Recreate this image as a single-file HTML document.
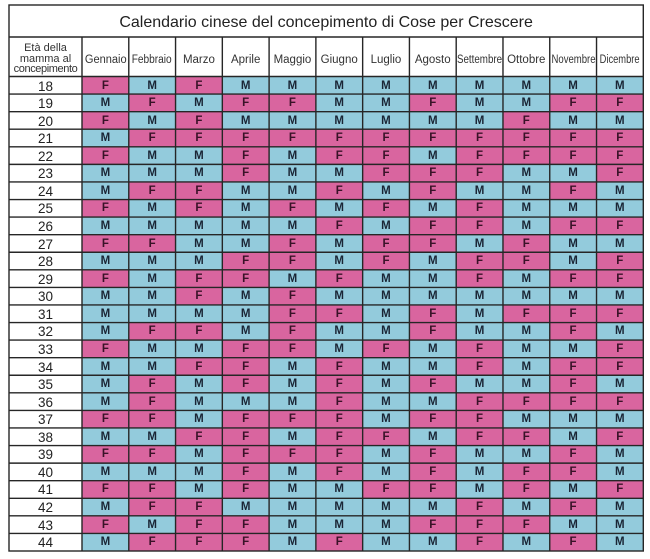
<!DOCTYPE html>
<html><head><meta charset="utf-8">
<style>
html,body{margin:0;padding:0;background:#fff;width:650px;height:559px;overflow:hidden;font-family:"Liberation Sans",Arial,sans-serif;}
.t{position:absolute;left:9px;top:5px;width:634.3px;height:546px;display:grid;grid-template-columns:73px repeat(12,46.775px);grid-template-rows:32px 39.5px repeat(27,17.574px);}
.t>*{display:flex;align-items:center;justify-content:center;box-sizing:border-box;overflow:visible;white-space:nowrap;line-height:1;min-height:0;}
.ti{grid-column:1/-1;background:#fff;font-size:16px;color:#222;padding-top:4px;}
.h{background:#fff;font-size:11.5px;color:#333;padding-top:7.5px;}
.h span{display:inline-block;}
.h0{background:#fff;font-size:11px;color:#333;flex-direction:column;line-height:10.3px !important;padding-top:4px;text-align:center;}
.h0 span{display:block;}
i{font-style:normal;background:#fff;font-size:13.5px;color:#222;padding-top:2px;}
b.f{background:#d9659f;color:#3a1228;font-size:11.5px;padding-top:2px;}
b.m{background:#93cbdc;color:#1a2535;font-size:11.5px;padding-top:2px;}
svg{position:absolute;left:0;top:0;}
</style></head><body>
<div class="t">
<div class="ti">Calendario cinese del concepimento di Cose per Crescere</div>
<div class="h0"><span>Età della</span><span>mamma al</span><span style="letter-spacing:-0.4px">concepimento</span></div>
<div class="h"><span style="transform:scaleX(0.96)">Gennaio</span></div>
<div class="h"><span style="transform:scaleX(0.88)">Febbraio</span></div>
<div class="h">Marzo</div>
<div class="h">Aprile</div>
<div class="h">Maggio</div>
<div class="h">Giugno</div>
<div class="h">Luglio</div>
<div class="h">Agosto</div>
<div class="h"><span style="transform:scaleX(0.85)">Settembre</span></div>
<div class="h">Ottobre</div>
<div class="h"><span style="transform:scaleX(0.83)">Novembre</span></div>
<div class="h"><span style="transform:scaleX(0.81)">Dicembre</span></div>

<i>18</i><b class="f">F</b><b class="m">M</b><b class="f">F</b><b class="m">M</b><b class="m">M</b><b class="m">M</b><b class="m">M</b><b class="m">M</b><b class="m">M</b><b class="m">M</b><b class="m">M</b><b class="m">M</b>
<i>19</i><b class="m">M</b><b class="f">F</b><b class="m">M</b><b class="f">F</b><b class="f">F</b><b class="m">M</b><b class="m">M</b><b class="f">F</b><b class="m">M</b><b class="m">M</b><b class="f">F</b><b class="f">F</b>
<i>20</i><b class="f">F</b><b class="m">M</b><b class="f">F</b><b class="m">M</b><b class="m">M</b><b class="m">M</b><b class="m">M</b><b class="m">M</b><b class="m">M</b><b class="f">F</b><b class="m">M</b><b class="m">M</b>
<i>21</i><b class="m">M</b><b class="f">F</b><b class="f">F</b><b class="f">F</b><b class="f">F</b><b class="f">F</b><b class="f">F</b><b class="f">F</b><b class="f">F</b><b class="f">F</b><b class="f">F</b><b class="f">F</b>
<i>22</i><b class="f">F</b><b class="m">M</b><b class="m">M</b><b class="f">F</b><b class="m">M</b><b class="f">F</b><b class="f">F</b><b class="m">M</b><b class="f">F</b><b class="f">F</b><b class="f">F</b><b class="f">F</b>
<i>23</i><b class="m">M</b><b class="m">M</b><b class="m">M</b><b class="f">F</b><b class="m">M</b><b class="m">M</b><b class="f">F</b><b class="f">F</b><b class="f">F</b><b class="m">M</b><b class="m">M</b><b class="f">F</b>
<i>24</i><b class="m">M</b><b class="f">F</b><b class="f">F</b><b class="m">M</b><b class="m">M</b><b class="f">F</b><b class="m">M</b><b class="f">F</b><b class="m">M</b><b class="m">M</b><b class="f">F</b><b class="m">M</b>
<i>25</i><b class="f">F</b><b class="m">M</b><b class="f">F</b><b class="m">M</b><b class="f">F</b><b class="m">M</b><b class="f">F</b><b class="m">M</b><b class="f">F</b><b class="m">M</b><b class="m">M</b><b class="m">M</b>
<i>26</i><b class="m">M</b><b class="m">M</b><b class="m">M</b><b class="m">M</b><b class="m">M</b><b class="f">F</b><b class="m">M</b><b class="f">F</b><b class="f">F</b><b class="m">M</b><b class="f">F</b><b class="f">F</b>
<i>27</i><b class="f">F</b><b class="f">F</b><b class="m">M</b><b class="m">M</b><b class="f">F</b><b class="m">M</b><b class="f">F</b><b class="f">F</b><b class="m">M</b><b class="f">F</b><b class="m">M</b><b class="m">M</b>
<i>28</i><b class="m">M</b><b class="m">M</b><b class="m">M</b><b class="f">F</b><b class="f">F</b><b class="m">M</b><b class="f">F</b><b class="m">M</b><b class="f">F</b><b class="f">F</b><b class="m">M</b><b class="f">F</b>
<i>29</i><b class="f">F</b><b class="m">M</b><b class="f">F</b><b class="f">F</b><b class="m">M</b><b class="f">F</b><b class="m">M</b><b class="m">M</b><b class="f">F</b><b class="m">M</b><b class="f">F</b><b class="f">F</b>
<i>30</i><b class="m">M</b><b class="m">M</b><b class="f">F</b><b class="m">M</b><b class="f">F</b><b class="m">M</b><b class="m">M</b><b class="m">M</b><b class="m">M</b><b class="m">M</b><b class="m">M</b><b class="m">M</b>
<i>31</i><b class="m">M</b><b class="m">M</b><b class="m">M</b><b class="m">M</b><b class="f">F</b><b class="f">F</b><b class="m">M</b><b class="f">F</b><b class="m">M</b><b class="f">F</b><b class="f">F</b><b class="f">F</b>
<i>32</i><b class="m">M</b><b class="f">F</b><b class="f">F</b><b class="m">M</b><b class="f">F</b><b class="m">M</b><b class="m">M</b><b class="f">F</b><b class="m">M</b><b class="m">M</b><b class="f">F</b><b class="m">M</b>
<i>33</i><b class="f">F</b><b class="m">M</b><b class="m">M</b><b class="f">F</b><b class="f">F</b><b class="m">M</b><b class="f">F</b><b class="m">M</b><b class="f">F</b><b class="m">M</b><b class="m">M</b><b class="f">F</b>
<i>34</i><b class="m">M</b><b class="m">M</b><b class="f">F</b><b class="f">F</b><b class="m">M</b><b class="f">F</b><b class="m">M</b><b class="m">M</b><b class="f">F</b><b class="m">M</b><b class="f">F</b><b class="f">F</b>
<i>35</i><b class="m">M</b><b class="f">F</b><b class="m">M</b><b class="f">F</b><b class="m">M</b><b class="f">F</b><b class="m">M</b><b class="f">F</b><b class="m">M</b><b class="m">M</b><b class="f">F</b><b class="m">M</b>
<i>36</i><b class="m">M</b><b class="f">F</b><b class="m">M</b><b class="m">M</b><b class="m">M</b><b class="f">F</b><b class="m">M</b><b class="m">M</b><b class="f">F</b><b class="f">F</b><b class="f">F</b><b class="f">F</b>
<i>37</i><b class="f">F</b><b class="f">F</b><b class="m">M</b><b class="f">F</b><b class="f">F</b><b class="f">F</b><b class="m">M</b><b class="f">F</b><b class="f">F</b><b class="m">M</b><b class="m">M</b><b class="m">M</b>
<i>38</i><b class="m">M</b><b class="m">M</b><b class="f">F</b><b class="f">F</b><b class="m">M</b><b class="f">F</b><b class="f">F</b><b class="m">M</b><b class="f">F</b><b class="f">F</b><b class="m">M</b><b class="f">F</b>
<i>39</i><b class="f">F</b><b class="f">F</b><b class="m">M</b><b class="f">F</b><b class="f">F</b><b class="f">F</b><b class="m">M</b><b class="f">F</b><b class="m">M</b><b class="m">M</b><b class="f">F</b><b class="m">M</b>
<i>40</i><b class="m">M</b><b class="m">M</b><b class="m">M</b><b class="f">F</b><b class="m">M</b><b class="f">F</b><b class="m">M</b><b class="f">F</b><b class="m">M</b><b class="f">F</b><b class="f">F</b><b class="m">M</b>
<i>41</i><b class="f">F</b><b class="f">F</b><b class="m">M</b><b class="f">F</b><b class="m">M</b><b class="m">M</b><b class="f">F</b><b class="f">F</b><b class="m">M</b><b class="f">F</b><b class="m">M</b><b class="f">F</b>
<i>42</i><b class="m">M</b><b class="f">F</b><b class="f">F</b><b class="m">M</b><b class="m">M</b><b class="m">M</b><b class="m">M</b><b class="m">M</b><b class="f">F</b><b class="m">M</b><b class="f">F</b><b class="m">M</b>
<i>43</i><b class="f">F</b><b class="m">M</b><b class="f">F</b><b class="f">F</b><b class="m">M</b><b class="m">M</b><b class="m">M</b><b class="f">F</b><b class="f">F</b><b class="f">F</b><b class="m">M</b><b class="m">M</b>
<i>44</i><b class="m">M</b><b class="f">F</b><b class="f">F</b><b class="f">F</b><b class="m">M</b><b class="f">F</b><b class="m">M</b><b class="m">M</b><b class="f">F</b><b class="m">M</b><b class="f">F</b><b class="m">M</b>
</div>
<svg width="650" height="559" viewBox="0 0 650 559">
<g stroke="#262626" stroke-width="1.4" fill="none">
<rect x="9" y="5" width="634.3" height="546"/>
<line x1="9" y1="37" x2="643.3" y2="37"/>
<line x1="9" y1="76.5" x2="643.3" y2="76.5"/>
<line x1="9" y1="94.07" x2="643.3" y2="94.07"/>
<line x1="9" y1="111.65" x2="643.3" y2="111.65"/>
<line x1="9" y1="129.22" x2="643.3" y2="129.22"/>
<line x1="9" y1="146.80" x2="643.3" y2="146.80"/>
<line x1="9" y1="164.37" x2="643.3" y2="164.37"/>
<line x1="9" y1="181.94" x2="643.3" y2="181.94"/>
<line x1="9" y1="199.52" x2="643.3" y2="199.52"/>
<line x1="9" y1="217.09" x2="643.3" y2="217.09"/>
<line x1="9" y1="234.67" x2="643.3" y2="234.67"/>
<line x1="9" y1="252.24" x2="643.3" y2="252.24"/>
<line x1="9" y1="269.81" x2="643.3" y2="269.81"/>
<line x1="9" y1="287.39" x2="643.3" y2="287.39"/>
<line x1="9" y1="304.96" x2="643.3" y2="304.96"/>
<line x1="9" y1="322.54" x2="643.3" y2="322.54"/>
<line x1="9" y1="340.11" x2="643.3" y2="340.11"/>
<line x1="9" y1="357.68" x2="643.3" y2="357.68"/>
<line x1="9" y1="375.26" x2="643.3" y2="375.26"/>
<line x1="9" y1="392.83" x2="643.3" y2="392.83"/>
<line x1="9" y1="410.41" x2="643.3" y2="410.41"/>
<line x1="9" y1="427.98" x2="643.3" y2="427.98"/>
<line x1="9" y1="445.55" x2="643.3" y2="445.55"/>
<line x1="9" y1="463.13" x2="643.3" y2="463.13"/>
<line x1="9" y1="480.70" x2="643.3" y2="480.70"/>
<line x1="9" y1="498.28" x2="643.3" y2="498.28"/>
<line x1="9" y1="515.85" x2="643.3" y2="515.85"/>
<line x1="9" y1="533.42" x2="643.3" y2="533.42"/>
<line x1="82" y1="37" x2="82" y2="551"/>
<line x1="128.78" y1="37" x2="128.78" y2="551"/>
<line x1="175.55" y1="37" x2="175.55" y2="551"/>
<line x1="222.33" y1="37" x2="222.33" y2="551"/>
<line x1="269.10" y1="37" x2="269.10" y2="551"/>
<line x1="315.88" y1="37" x2="315.88" y2="551"/>
<line x1="362.65" y1="37" x2="362.65" y2="551"/>
<line x1="409.43" y1="37" x2="409.43" y2="551"/>
<line x1="456.20" y1="37" x2="456.20" y2="551"/>
<line x1="502.98" y1="37" x2="502.98" y2="551"/>
<line x1="549.75" y1="37" x2="549.75" y2="551"/>
<line x1="596.53" y1="37" x2="596.53" y2="551"/>
</g>
</svg>
</body></html>
